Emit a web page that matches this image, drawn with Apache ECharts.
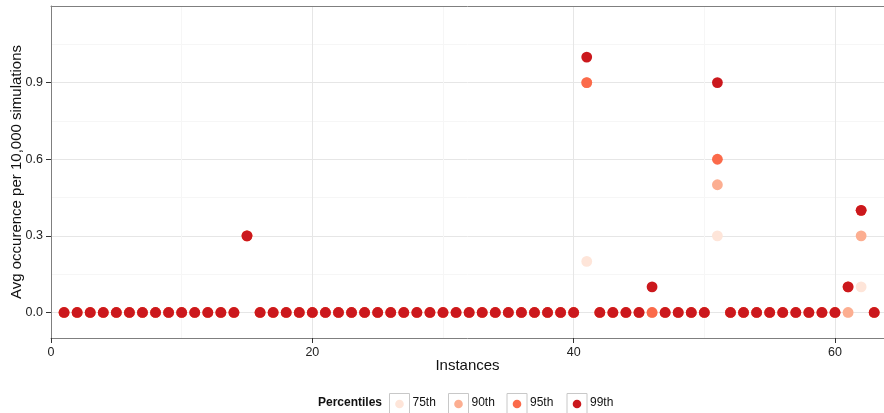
<!DOCTYPE html>
<html>
<head>
<meta charset="utf-8">
<title>Avg occurence per instance</title>
<script src="https://cdn.jsdelivr.net/npm/echarts@6/dist/echarts.min.js"></script>
<style>
  html, body { margin: 0; padding: 0; background: #fff; }
  #chart { width: 884px; height: 413px; }
</style>
</head>
<body>
<div id="chart"></div>
<script>
// Instance numbers along the x axis
const instances = [
  1, 2, 3, 4, 5, 6, 7, 8, 9, 10,
  11, 12, 13, 14, 15, 16, 17, 18, 19, 20,
  21, 22, 23, 24, 25, 26, 27, 28, 29, 30,
  31, 32, 33, 34, 35, 36, 37, 38, 39, 40,
  41, 42, 43, 44, 45, 46, 47, 48, 49, 50,
  51, 52, 53, 54, 55, 56, 57, 58, 59, 60,
  61, 62, 63
];

// Average occurrence per 10,000 simulations, one list per percentile
const p75 = [
  0, 0, 0, 0, 0, 0, 0, 0, 0, 0,
  0, 0, 0, 0, 0.3, 0, 0, 0, 0, 0,
  0, 0, 0, 0, 0, 0, 0, 0, 0, 0,
  0, 0, 0, 0, 0, 0, 0, 0, 0, 0,
  0.2, 0, 0, 0, 0, 0, 0, 0, 0, 0,
  0.3, 0, 0, 0, 0, 0, 0, 0, 0, 0,
  0, 0.1, 0
];
const p90 = [
  0, 0, 0, 0, 0, 0, 0, 0, 0, 0,
  0, 0, 0, 0, 0.3, 0, 0, 0, 0, 0,
  0, 0, 0, 0, 0, 0, 0, 0, 0, 0,
  0, 0, 0, 0, 0, 0, 0, 0, 0, 0,
  0.9, 0, 0, 0, 0, 0, 0, 0, 0, 0,
  0.5, 0, 0, 0, 0, 0, 0, 0, 0, 0,
  0, 0.3, 0
];
const p95 = [
  0, 0, 0, 0, 0, 0, 0, 0, 0, 0,
  0, 0, 0, 0, 0.3, 0, 0, 0, 0, 0,
  0, 0, 0, 0, 0, 0, 0, 0, 0, 0,
  0, 0, 0, 0, 0, 0, 0, 0, 0, 0,
  0.9, 0, 0, 0, 0, 0, 0, 0, 0, 0,
  0.6, 0, 0, 0, 0, 0, 0, 0, 0, 0,
  0.1, 0.4, 0
];
const p99 = [
  0, 0, 0, 0, 0, 0, 0, 0, 0, 0,
  0, 0, 0, 0, 0.3, 0, 0, 0, 0, 0,
  0, 0, 0, 0, 0, 0, 0, 0, 0, 0,
  0, 0, 0, 0, 0, 0, 0, 0, 0, 0,
  1.0, 0, 0, 0, 0, 0.1, 0, 0, 0, 0,
  0.9, 0, 0, 0, 0, 0, 0, 0, 0, 0,
  0.1, 0.4, 0
];

const percentileNames = ['75th', '90th', '95th', '99th'];
const percentileColors = ['#FEE5D9', '#FCAE91', '#FB6A4A', '#CB181D'];
const yTicks = [0, 0.3, 0.6, 0.9];
const yMinorTicks = [0.15, 0.45, 0.75, 1.05];

const FONT = '"Liberation Sans", Arial, Helvetica, sans-serif';
const chart = echarts.init(document.getElementById('chart'), null, { renderer: 'canvas' });

const seriesValues = [p75, p90, p95, p99];
const series = seriesValues.map((vals, i) => ({
  name: percentileNames[i],
  type: 'scatter',
  symbol: 'circle',
  symbolSize: 10.8,
  itemStyle: { color: percentileColors[i], opacity: 1 },
  emphasis: { disabled: true },
  data: instances.map((x, k) => [x, vals[k]])
}));

// Legend keys: boxed dots with labels, laid out along the bottom
const keyX = [389, 448, 506.5, 566.5];
const legendGraphics = [
  {
    type: 'text', left: 318, top: 397,
    style: { text: 'Percentiles', font: 'bold 12px ' + FONT, fill: '#111' }
  }
];
percentileNames.forEach((name, i) => {
  legendGraphics.push({
    type: 'rect',
    shape: { x: keyX[i] + 0.5, y: 393.5, width: 20, height: 21 },
    style: { fill: '#fff', stroke: '#c8c8c8', lineWidth: 1 }
  });
  legendGraphics.push({
    type: 'circle',
    shape: { cx: keyX[i] + 10.5, cy: 404, r: 4.3 },
    style: { fill: percentileColors[i] }
  });
  legendGraphics.push({
    type: 'text', left: keyX[i] + 23.5, top: 397,
    style: { text: name, font: '12px ' + FONT, fill: '#111' }
  });
});

const axisText = { color: '#222', fontSize: 12.5, fontFamily: FONT };
const X_MAX = 63.75;

chart.setOption({
  animation: false,
  backgroundColor: '#fff',
  grid: {
    left: 51, right: 0, top: 6, bottom: 75,
    show: false
  },
  xAxis: [
    {
      type: 'value',
      min: 0, max: X_MAX, interval: 20,
      name: 'Instances',
      nameLocation: 'middle',
      nameGap: 20,
      nameMoveOverlap: false,
      nameTextStyle: { color: '#111', fontSize: 15, fontFamily: FONT },
      axisLine: { show: true, onZero: false, lineStyle: { color: '#7f7f7f', width: 1 } },
      axisTick: { show: true, length: 5, lineStyle: { color: '#333' } },
      axisLabel: Object.assign({ margin: 8, showMaxLabel: false }, axisText),
      splitLine: { show: true, lineStyle: { color: '#e6e6e6', width: 1 } },
      minorTick: { show: true, splitNumber: 2, length: 0 },
      minorSplitLine: { show: true, lineStyle: { color: '#f6f6f6', width: 1 } }
    },
    {
      // top edge of the panel
      type: 'value',
      position: 'top',
      min: 0, max: X_MAX,
      axisLine: { show: true, onZero: false, lineStyle: { color: '#7f7f7f', width: 1 } },
      axisTick: { show: false },
      axisLabel: { show: false },
      splitLine: { show: false }
    }
  ],
  yAxis: [
    {
      type: 'value',
      min: -0.1, max: 1.2,
      name: 'Avg occurence per 10,000 simulations',
      nameLocation: 'middle',
      nameGap: 26.5,
      nameMoveOverlap: false,
      nameTextStyle: { color: '#111', fontSize: 15, fontFamily: FONT },
      axisLine: { show: true, onZero: false, lineStyle: { color: '#7f7f7f', width: 1 } },
      axisTick: { show: true, length: 5, customValues: yTicks, lineStyle: { color: '#333' } },
      axisLabel: Object.assign({
        margin: 8,
        customValues: yTicks,
        formatter: v => v.toFixed(1)
      }, axisText),
      splitLine: { show: true, lineStyle: { color: '#e6e6e6', width: 1 } }
    },
    {
      // faint minor grid lines between the labelled values
      type: 'value',
      min: -0.1, max: 1.2,
      position: 'left',
      axisLine: { show: false },
      axisTick: { show: false, customValues: yMinorTicks },
      axisLabel: { show: false, customValues: yMinorTicks },
      splitLine: { show: true, lineStyle: { color: '#f6f6f6', width: 1 } }
    }
  ],
  series: series,
  graphic: legendGraphics
});
</script>
</body>
</html>
